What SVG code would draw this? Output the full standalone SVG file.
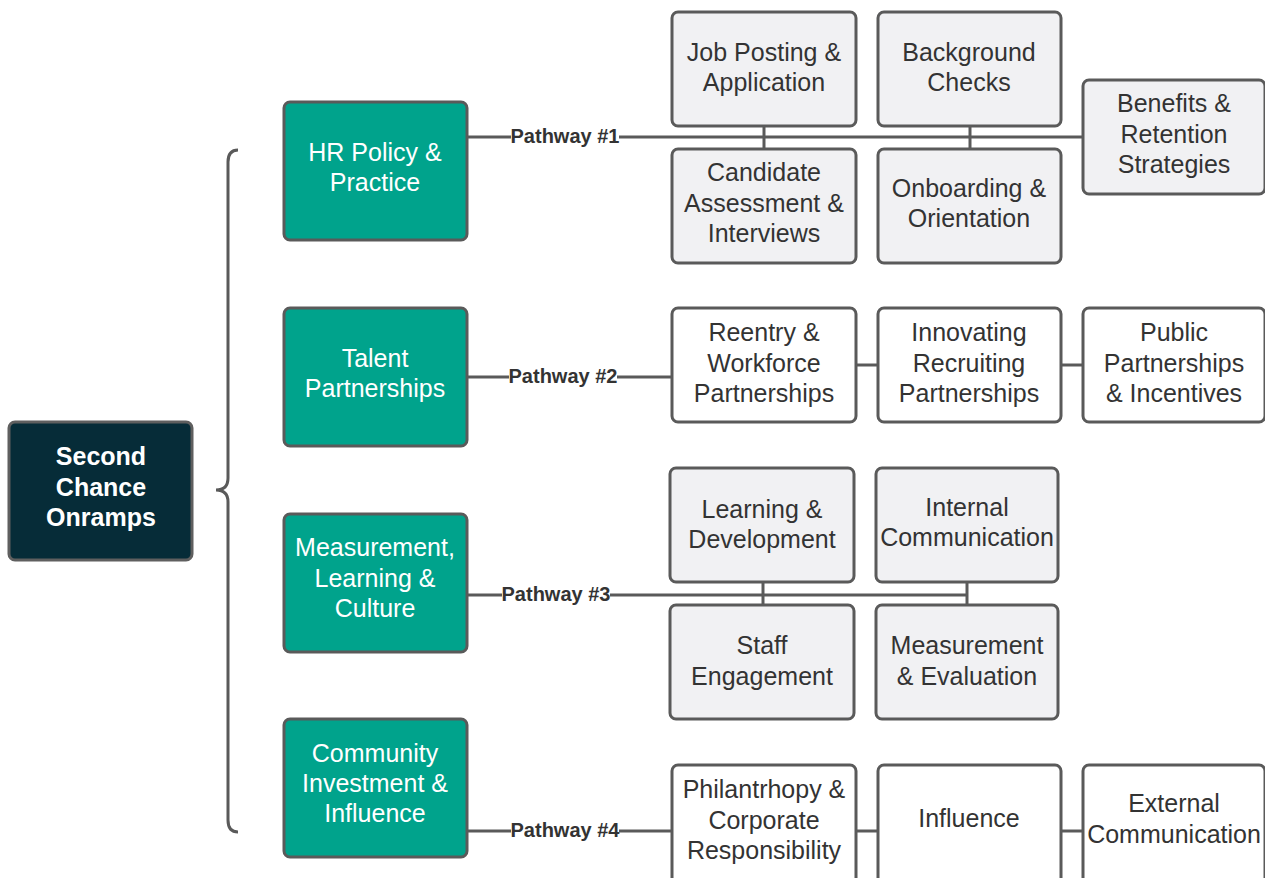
<svg xmlns="http://www.w3.org/2000/svg" width="1265" height="878" viewBox="0 0 1265 878">
<style>
.root{fill:#062c38;stroke:#5f5f5f;stroke-width:3}
.pw{fill:#00a38c;stroke:#5a5a5a;stroke-width:3}
.sg{fill:#f1f1f3;stroke:#5a5a5a;stroke-width:3}
.sw{fill:#ffffff;stroke:#5a5a5a;stroke-width:3}
.t{font-family:"Liberation Sans",Arial,sans-serif;font-size:25px;text-anchor:middle}
.tw{fill:#ffffff}
.td{fill:#333333}
.rt{font-family:"Liberation Sans",Arial,sans-serif;font-size:25px;font-weight:bold;fill:#ffffff;text-anchor:middle}
.lbl{font-family:"Liberation Sans",Arial,sans-serif;font-size:20px;font-weight:bold;fill:#333333;text-anchor:middle}
.c{fill:none;stroke:#5a5a5a;stroke-width:3}
</style>
<rect width="1265" height="878" fill="#ffffff"/>
<g id="connectors">
<path class="c" d="M238,150 Q228,150 228,162 L228,478 Q228,490 216,490 Q228,490 228,502 L228,820 Q228,832 238,832"/>
<line class="c" x1="467" y1="137" x2="1083" y2="137"/>
<line class="c" x1="764" y1="126" x2="764" y2="149"/>
<line class="c" x1="970" y1="126" x2="970" y2="149"/>
<line class="c" x1="467" y1="377" x2="672" y2="377"/>
<line class="c" x1="856" y1="365" x2="878" y2="365"/>
<line class="c" x1="1061" y1="365" x2="1083" y2="365"/>
<line class="c" x1="467" y1="595" x2="967" y2="595"/>
<line class="c" x1="763" y1="582" x2="763" y2="605"/>
<line class="c" x1="967" y1="582" x2="967" y2="605"/>
<line class="c" x1="467" y1="831" x2="672" y2="831"/>
<line class="c" x1="856" y1="831" x2="878" y2="831"/>
<line class="c" x1="1061" y1="831" x2="1083" y2="831"/>
<g id="label-p1"><rect x="511" y="125" width="108" height="22" fill="#ffffff"/><text class="lbl" x="565" y="143">Pathway #1</text></g>
<g id="label-p2"><rect x="509" y="365" width="108" height="22" fill="#ffffff"/><text class="lbl" x="563" y="383">Pathway #2</text></g>
<g id="label-p3"><rect x="502" y="583" width="108" height="22" fill="#ffffff"/><text class="lbl" x="556" y="601">Pathway #3</text></g>
<g id="label-p4"><rect x="511" y="819" width="108" height="22" fill="#ffffff"/><text class="lbl" x="565" y="837">Pathway #4</text></g>
</g>
<g id="root"><rect class="root" x="9" y="422" width="183" height="138" rx="6"/>
<text class="rt" x="101" y="465">Second</text><text class="rt" x="101" y="496">Chance</text><text class="rt" x="101" y="526">Onramps</text></g>
<g id="hr"><rect class="pw" x="284" y="102" width="183" height="138" rx="6"/>
<text class="t tw" x="375" y="161">HR Policy &amp;</text><text class="t tw" x="375" y="191">Practice</text></g>
<g id="talent"><rect class="pw" x="284" y="308" width="183" height="138" rx="6"/>
<text class="t tw" x="375" y="367">Talent</text><text class="t tw" x="375" y="397">Partnerships</text></g>
<g id="measurement"><rect class="pw" x="284" y="514" width="183" height="138" rx="6"/>
<text class="t tw" x="375" y="556">Measurement,</text><text class="t tw" x="375" y="587">Learning &amp;</text><text class="t tw" x="375" y="617">Culture</text></g>
<g id="community"><rect class="pw" x="284" y="719" width="183" height="138" rx="6"/>
<text class="t tw" x="375" y="762">Community</text><text class="t tw" x="375" y="792">Investment &amp;</text><text class="t tw" x="375" y="822">Influence</text></g>
<g id="job"><rect class="sg" x="672" y="12" width="184" height="114" rx="6"/>
<text class="t td" x="764" y="61">Job Posting &amp;</text><text class="t td" x="764" y="91">Application</text></g>
<g id="background"><rect class="sg" x="878" y="12" width="183" height="114" rx="6"/>
<text class="t td" x="969" y="61">Background</text><text class="t td" x="969" y="91">Checks</text></g>
<g id="candidate"><rect class="sg" x="672" y="149" width="184" height="114" rx="6"/>
<text class="t td" x="764" y="181">Candidate</text><text class="t td" x="764" y="212">Assessment &amp;</text><text class="t td" x="764" y="242">Interviews</text></g>
<g id="onboarding"><rect class="sg" x="878" y="149" width="183" height="114" rx="6"/>
<text class="t td" x="969" y="197">Onboarding &amp;</text><text class="t td" x="969" y="227">Orientation</text></g>
<g id="benefits"><rect class="sg" x="1083" y="80" width="182" height="114" rx="6"/>
<text class="t td" x="1174" y="112">Benefits &amp;</text><text class="t td" x="1174" y="143">Retention</text><text class="t td" x="1174" y="173">Strategies</text></g>
<g id="reentry"><rect class="sw" x="672" y="308" width="184" height="114" rx="6"/>
<text class="t td" x="764" y="341">Reentry &amp;</text><text class="t td" x="764" y="372">Workforce</text><text class="t td" x="764" y="402">Partnerships</text></g>
<g id="innovating"><rect class="sw" x="878" y="308" width="183" height="114" rx="6"/>
<text class="t td" x="969" y="341">Innovating</text><text class="t td" x="969" y="372">Recruiting</text><text class="t td" x="969" y="402">Partnerships</text></g>
<g id="public"><rect class="sw" x="1083" y="308" width="182" height="114" rx="6"/>
<text class="t td" x="1174" y="341">Public</text><text class="t td" x="1174" y="372">Partnerships</text><text class="t td" x="1174" y="402">&amp; Incentives</text></g>
<g id="learning"><rect class="sg" x="670" y="468" width="184" height="114" rx="6"/>
<text class="t td" x="762" y="518">Learning &amp;</text><text class="t td" x="762" y="548">Development</text></g>
<g id="internal"><rect class="sg" x="876" y="468" width="182" height="114" rx="6"/>
<text class="t td" x="967" y="516">Internal</text><text class="t td" x="967" y="546">Communication</text></g>
<g id="staff"><rect class="sg" x="670" y="605" width="184" height="114" rx="6"/>
<text class="t td" x="762" y="654">Staff</text><text class="t td" x="762" y="685">Engagement</text></g>
<g id="evaluation"><rect class="sg" x="876" y="605" width="182" height="114" rx="6"/>
<text class="t td" x="967" y="654">Measurement</text><text class="t td" x="967" y="685">&amp; Evaluation</text></g>
<g id="philanthropy"><rect class="sw" x="672" y="765" width="184" height="120" rx="6"/>
<text class="t td" x="764" y="798">Philantrhopy &amp;</text><text class="t td" x="764" y="829">Corporate</text><text class="t td" x="764" y="859">Responsibility</text></g>
<g id="influence"><rect class="sw" x="878" y="765" width="183" height="120" rx="6"/>
<text class="t td" x="969" y="827">Influence</text></g>
<g id="external"><rect class="sw" x="1083" y="765" width="182" height="120" rx="6"/>
<text class="t td" x="1174" y="812">External</text><text class="t td" x="1174" y="843">Communication</text></g>
</svg>
